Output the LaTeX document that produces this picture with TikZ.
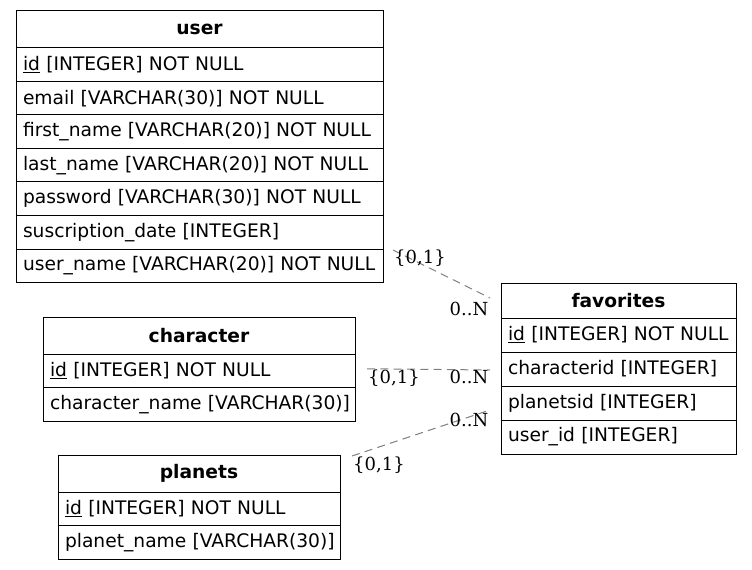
\documentclass[tikz,border=0pt]{standalone}
\usepackage{fontspec}
\setmainfont{DejaVu Sans}
\newfontfamily\cardfont{DejaVu Serif}
\usetikzlibrary{positioning}

\tikzset{
	tabhead/.style={draw, line width=0.75pt, inner xsep=0pt, inner ysep=0pt, outer sep=0pt,
		text width=#1, align=center, minimum height=27.75pt,
		font=\fontsize{14}{16}\selectfont\bfseries},
	field/.style={draw, line width=0.75pt, inner xsep=5.25pt, inner ysep=0pt, outer sep=0pt,
		text width=#1, align=left, minimum height=25.125pt,
		font=\fontsize{14}{16}\selectfont},
	rel/.style={draw=gray, line width=0.75pt, dash pattern=on 6pt off 4pt},
	card/.style={inner sep=0pt, font=\cardfont\fontsize{13.5}{15}\selectfont},
}
\hyphenpenalty=10000

\begin{document}
\begin{tikzpicture}[x=0.75pt,y=-0.75pt]
%	\draw[style=help lines] (0,0) grid[step=50] (752,570);
	\useasboundingbox (0,0) rectangle (752,570);

	%Table user
	\node[tabhead=275.25pt, anchor=north west] (uhead) at (16,11) {user};
	\node[field=264.75pt, below=0pt of uhead] (urow1) {\underline{id} [INTEGER] NOT NULL};
	\node[field=264.75pt, below=0pt of urow1] (urow2) {email [VARCHAR(30)] NOT NULL};
	\node[field=264.75pt, below=0pt of urow2] (urow3) {\mbox{first\_name [VARCHAR(20)] NOT NULL}};
	\node[field=264.75pt, below=0pt of urow3] (urow4) {last\_name [VARCHAR(20)] NOT NULL};
	\node[field=264.75pt, below=0pt of urow4] (urow5) {password [VARCHAR(30)] NOT NULL};
	\node[field=264.75pt, below=0pt of urow5] (urow6) {suscription\_date [INTEGER]};
	\node[field=264.75pt, below=0pt of urow6] (urow7) {\mbox{user\_name [VARCHAR(20)] NOT NULL}};

	%Table character
	\node[tabhead=234pt, anchor=north west] (chead) at (43,317) {character};
	\node[field=223.5pt, below=0pt of chead] (crow1) {\underline{id} [INTEGER] NOT NULL};
	\node[field=223.5pt, below=0pt of crow1] (crow2) {\mbox{character\_name [VARCHAR(30)]}};

	%Table planets
	\node[tabhead=211.5pt, anchor=north west] (phead) at (58,455) {planets};
	\node[field=201pt, below=0pt of phead] (prow1) {\underline{id} [INTEGER] NOT NULL};
	\node[field=201pt, below=0pt of prow1] (prow2) {\mbox{planet\_name [VARCHAR(30)]}};

	%Table favorites
	\node[tabhead=176.25pt, minimum height=26.25pt, anchor=north west] (fhead) at (501,283) {favorites};
	\node[field=165.75pt, minimum height=25.5pt, below=0pt of fhead] (frow1) {\mbox{\underline{id} [INTEGER] NOT NULL}};
	\node[field=165.75pt, minimum height=25.5pt, below=0pt of frow1] (frow2) {characterid [INTEGER]};
	\node[field=165.75pt, minimum height=25.5pt, below=0pt of frow2] (frow3) {planetsid [INTEGER]};
	\node[field=165.75pt, minimum height=25.5pt, below=0pt of frow3] (frow4) {user\_id [INTEGER]};

	%Lines
	\draw[rel] ([shift={(10,1)}]urow7.north east) -- ([shift={(-11,-2.5)}]fhead.west);%user
	\draw[rel] ([shift={(12,-2)}]crow1.east) -- ([shift={(-11,1)}]frow2.west);%character
	\draw[rel] ([shift={(12,1)}]phead.north east) -- ([shift={(-11,7)}]frow3.west);%planets

	%Cardinality
	\node[card] (ucard) at (420,258) {\{0,1\}};
	\node[card] (ufav) at (469,309) {0..N};
	\node[card] (ccard) at (394,378) {\{0,1\}};
	\node[card] (cfav) at (469,377) {0..N};
	\node[card] (pcard) at (379,465) {\{0,1\}};
	\node[card] (pfav) at (469,420) {0..N};
\end{tikzpicture}
\end{document}
